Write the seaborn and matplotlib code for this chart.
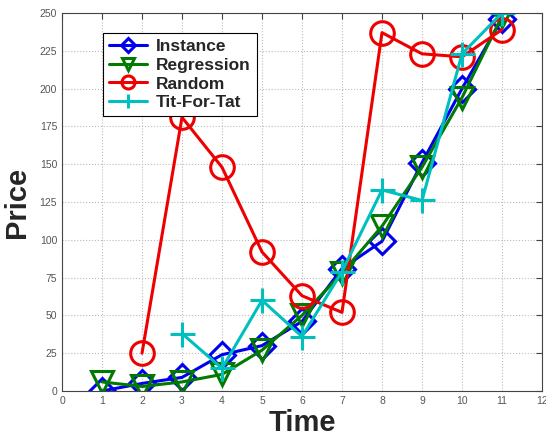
import matplotlib
matplotlib.use("Agg")
import matplotlib.pyplot as plt
import seaborn as sns
import pandas as pd

# Price paths per bidding strategy over time
time_all = [1, 2, 3, 4, 5, 6, 7, 8, 9, 10, 11]
instance = [0, 5, 9, 24, 30, 46, 81, 99, 151, 200, 246]
regression = [6, 3, 6, 11, 27, 50, 78, 109, 148, 194, 248]
time_random = [2, 3, 4, 5, 6, 7, 8, 9, 10, 11]
random_ = [25, 181, 148, 92, 63, 52, 237, 223, 221, 239]
time_tft = [3, 4, 5, 6, 7, 8, 9, 10, 11]
tit_for_tat = [38, 15, 60, 36, 79, 133, 126, 223, 250]

x_ticks = list(range(0, 13))
y_ticks = list(range(0, 251, 25))

sns.set_style("white")
plt.rcParams["font.family"] = ["Liberation Sans", "DejaVu Sans"]

fig = plt.figure(figsize=(5.46, 4.36), dpi=100)
ax = fig.add_axes([62 / 546, 1 - 391 / 436, 480 / 546, 378 / 436])

series = [
    ("Instance", time_all, instance, "#0000ee", "D", 13),
    ("Regression", time_all, regression, "#007a00", "v", 16),
    ("Random", time_random, random_, "#ee0000", "o", 17),
    ("Tit-For-Tat", time_tft, tit_for_tat, "#00bfbf", "+", 18),
]

for name, xs, ys, col, mk, ms in series:
    df = pd.DataFrame({"Time": xs, "Price": ys})
    sns.lineplot(data=df, x="Time", y="Price", ax=ax, color=col, marker=mk,
                 markersize=ms, markerfacecolor="none", markeredgecolor=col,
                 markeredgewidth=2.2, linewidth=2.2, label=name)

ax.set_xlim(0, 12)
ax.set_ylim(0, 250)
ax.set_xticks(x_ticks)
ax.set_yticks(y_ticks)
ax.tick_params(direction="in", length=4, labelsize=7.5, labelcolor="#555555",
               color="#444444", top=True, right=True)
ax.grid(True, linestyle=":", color="#bbbbbb", linewidth=0.8)
for sp in ax.spines.values():
    sp.set_color("#444444")
    sp.set_linewidth(0.8)

ax.set_xlabel("Time", fontsize=21, fontweight="bold", labelpad=2)
ax.set_ylabel("Price", fontsize=21, fontweight="bold", labelpad=6)

leg = ax.legend(loc="upper left", bbox_to_anchor=(0.085, 0.947),
                prop={"weight": "bold", "size": 12.5}, frameon=True, fancybox=False,
                edgecolor="black", framealpha=1, markerscale=0.55, handlelength=2.2,
                borderpad=0.35, labelspacing=0.2, handletextpad=0.5,
                borderaxespad=0)
leg.get_frame().set_linewidth(0.8)

fig.savefig("out.png", dpi=100)
